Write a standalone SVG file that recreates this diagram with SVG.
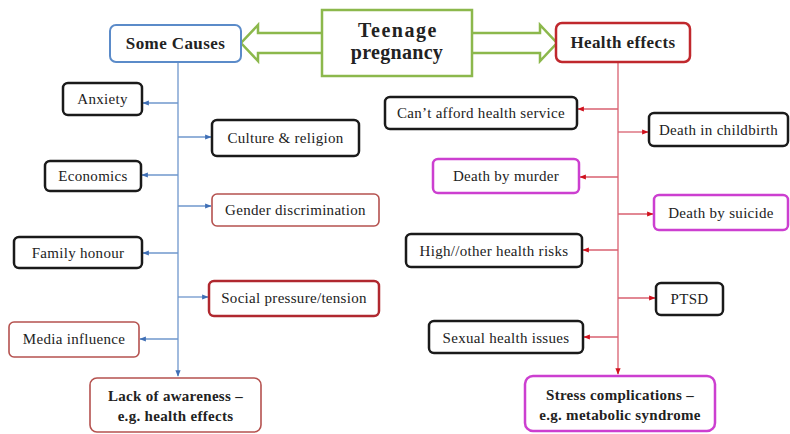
<svg xmlns="http://www.w3.org/2000/svg" width="790" height="434" viewBox="0 0 790 434">
<style>
text{font-family:"Liberation Serif","Times New Roman",serif;fill:#222;text-anchor:middle}
.t{font-size:15px;letter-spacing:0.3px}
.b{font-size:15px;font-weight:bold;letter-spacing:0.3px}
.h{font-size:17px;font-weight:bold;letter-spacing:0.4px}
.bx{fill:#fff;stroke:#1a1a1a;stroke-width:2.5}
.rb{fill:#fff;stroke:#b5524f;stroke-width:1.6}
.rd{fill:#fff;stroke:#b0282f;stroke-width:2.5}
.mg{fill:#fff;stroke:#cc3fd0;stroke-width:2.5}
.bl{stroke:#6f97cc;stroke-width:1.3;fill:none}
.rl{stroke:#d96070;stroke-width:1.3;fill:none}
</style>
<defs>
<marker id="ab" viewBox="0 0 10 10" refX="9" refY="5" markerWidth="5" markerHeight="5" orient="auto"><path d="M0,1 L10,5 L0,9 Z" fill="#3f6fb5"/></marker>
<marker id="ar" viewBox="0 0 10 10" refX="9" refY="5" markerWidth="5" markerHeight="5" orient="auto"><path d="M0,1 L10,5 L0,9 Z" fill="#d0101c"/></marker>
</defs>
<rect width="790" height="434" fill="#fff"/>

<g id="connectors">
<path class="bl" d="M178,62 V376" marker-end="url(#ab)"/>
<path class="bl" d="M178,103 H143" marker-end="url(#ab)"/>
<path class="bl" d="M178,137 H211" marker-end="url(#ab)"/>
<path class="bl" d="M178,175 H142" marker-end="url(#ab)"/>
<path class="bl" d="M178,206 H211" marker-end="url(#ab)"/>
<path class="bl" d="M178,253 H143" marker-end="url(#ab)"/>
<path class="bl" d="M178,297 H208" marker-end="url(#ab)"/>
<path class="bl" d="M178,339 H140" marker-end="url(#ab)"/>
<path class="rl" d="M618,62 V374" marker-end="url(#ar)"/>
<path class="rl" d="M618,109 H578" marker-end="url(#ar)"/>
<path class="rl" d="M618,132 H648" marker-end="url(#ar)"/>
<path class="rl" d="M618,177 H580" marker-end="url(#ar)"/>
<path class="rl" d="M618,214 H653" marker-end="url(#ar)"/>
<path class="rl" d="M618,250 H583" marker-end="url(#ar)"/>
<path class="rl" d="M618,298 H655" marker-end="url(#ar)" stroke-width="2.2"/>
<path class="rl" d="M618,337 H584" marker-end="url(#ar)"/>
<path d="M322,33 H258 V25 L241,43 L258,61 V53 H322" fill="#fff" stroke="#8cb84c" stroke-width="2.5" stroke-linejoin="miter"/>
<path d="M472,33 H540 V25 L557,43 L540,61 V53 H472" fill="#fff" stroke="#8cb84c" stroke-width="2.5" stroke-linejoin="miter"/>
</g>

<g id="title"><rect x="322" y="10" width="150" height="66" fill="#fff" stroke="#8cb84c" stroke-width="2.5"/><text x="398" y="37" style="font-size:20px;font-weight:bold;letter-spacing:1.5px">Teenage</text><text x="397" y="59" style="font-size:20px;font-weight:bold;letter-spacing:0.3px">pregnancy</text></g>
<g id="causes"><rect x="110" y="25" width="131" height="37" rx="6" fill="#fff" stroke="#5b8bc9" stroke-width="2"/><text class="h" x="175.5" y="49">Some Causes</text></g>
<g id="health"><rect x="556" y="23" width="134" height="39" rx="6" fill="#fff" stroke="#c0282d" stroke-width="2.5"/><text class="h" x="623" y="48">Health effects</text></g>

<g id="anxiety"><rect class="bx" x="63" y="83" width="79" height="32" rx="5"/><text class="t" x="102.5" y="104">Anxiety</text></g>
<g id="culture"><rect class="bx" x="212" y="120" width="147" height="36" rx="5"/><text class="t" x="285.5" y="143">Culture &amp; religion</text></g>
<g id="economics"><rect class="bx" x="45" y="161" width="96" height="30" rx="5"/><text class="t" x="93" y="181">Economics</text></g>
<g id="gender"><rect class="rb" x="212" y="194" width="167" height="32" rx="5"/><text class="t" x="295.5" y="215">Gender discrimination</text></g>
<g id="family"><rect class="bx" x="14" y="237" width="128" height="31" rx="5"/><text class="t" x="78" y="258">Family honour</text></g>
<g id="social"><rect class="rd" x="209" y="281" width="170" height="35" rx="5"/><text class="t" x="294" y="303">Social pressure/tension</text></g>
<g id="media"><rect class="rb" x="9" y="322" width="130" height="35" rx="5"/><text class="t" x="74" y="344">Media influence</text></g>
<g id="lack"><rect class="rb" x="90" y="378" width="171" height="54" rx="7"/><text class="b" x="175.5" y="401">Lack of awareness –</text><text class="b" x="175.5" y="421">e.g. health effects</text></g>

<g id="afford"><rect class="bx" x="385" y="97" width="192" height="32" rx="5"/><text class="t" x="481" y="118">Can’t afford health service</text></g>
<g id="childbirth"><rect class="bx" x="649" y="113" width="139" height="33" rx="5"/><text class="t" x="718.5" y="135">Death in childbirth</text></g>
<g id="murder"><rect class="mg" x="433" y="159" width="146" height="34" rx="5"/><text class="t" x="506" y="181">Death by murder</text></g>
<g id="suicide"><rect class="mg" x="654" y="195" width="134" height="35" rx="5"/><text class="t" x="721" y="218">Death by suicide</text></g>
<g id="risks"><rect class="bx" x="406" y="234" width="176" height="33" rx="5"/><text class="t" x="494" y="256">High//other health risks</text></g>
<g id="ptsd"><rect class="bx" x="656" y="283" width="67" height="32" rx="5"/><text class="t" x="689.5" y="304">PTSD</text></g>
<g id="sexual"><rect class="bx" x="429" y="321" width="154" height="32" rx="5"/><text class="t" x="506" y="343">Sexual health issues</text></g>
<g id="stress"><rect class="mg" x="525" y="376" width="190" height="55" rx="8"/><text class="b" x="620" y="400">Stress complications –</text><text class="b" x="620" y="420">e.g. metabolic syndrome</text></g>
</svg>
